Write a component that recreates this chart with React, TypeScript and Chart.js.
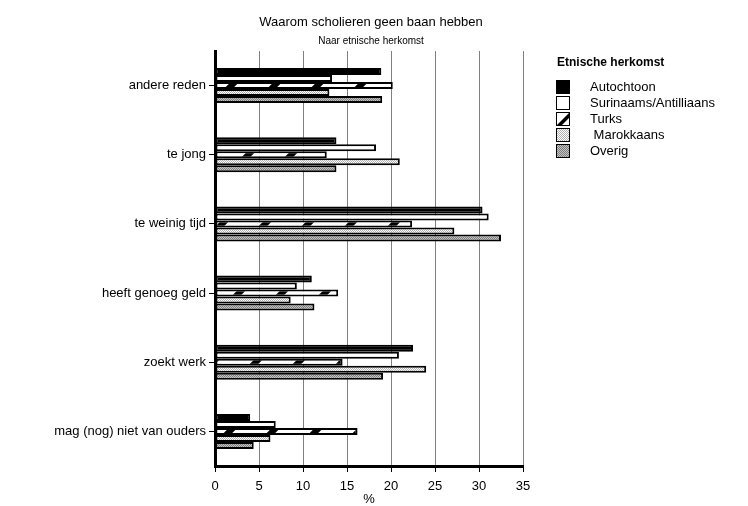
import React, { useEffect, useRef } from "react";
import { Chart, registerables } from "chart.js";
Chart.register(...registerables);

const categories = [
  "andere reden",
  "te jong",
  "te weinig tijd",
  "heeft genoeg geld",
  "zoekt werk",
  "mag (nog) niet van ouders",
];
const seriesNames = ["Autochtoon", "Surinaams/Antilliaans", "Turks", " Marokkaans", "Overig"];
const autochtoon = [18.9, 13.8, 30.4, 11.0, 22.5, 4.0];
const surinaams = [13.3, 18.3, 31.1, 9.3, 20.9, 6.9];
const turks = [20.2, 12.7, 22.4, 14.0, 14.5, 16.2];
const marokkaans = [13.0, 21.0, 27.2, 8.6, 24.0, 6.3];
const overig = [19.0, 13.8, 32.5, 11.3, 19.1, 4.4];
const xMin = 0;
const xMax = 35;
const xStep = 5;
const titleText = "Waarom scholieren geen baan hebben";
const subtitleText = "Naar etnische herkomst";
const legendTitle = "Etnische herkomst";
const axisTitle = "%";

const FAMILY = "'Liberation Sans', Arial, sans-serif";

function makeTile(w: number, h: number, draw: (c: CanvasRenderingContext2D) => void) {
  const cv = document.createElement("canvas");
  cv.width = w;
  cv.height = h;
  const c = cv.getContext("2d")!;
  draw(c);
  return cv;
}

export default function App() {
  const ref = useRef<HTMLCanvasElement | null>(null);

  useEffect(() => {
    const canvas = ref.current!;
    const ctx = canvas.getContext("2d")!;

    const dotsLight = ctx.createPattern(
      makeTile(2, 2, (c) => {
        c.fillStyle = "#ffffff";
        c.fillRect(0, 0, 2, 2);
        c.fillStyle = "#b0b0b0";
        c.fillRect(0, 0, 1, 1);
        c.fillRect(1, 1, 1, 1);
      }),
      "repeat"
    )!;
    const dotsDark = ctx.createPattern(
      makeTile(2, 2, (c) => {
        c.fillStyle = "#c4c4c4";
        c.fillRect(0, 0, 2, 2);
        c.fillStyle = "#7c7c7c";
        c.fillRect(0, 0, 1, 1);
        c.fillRect(1, 1, 1, 1);
      }),
      "repeat"
    )!;
    const P = 43;
    const slashTile = makeTile(P, P, (c) => {
      c.fillStyle = "#ffffff";
      c.fillRect(0, 0, P, P);
      c.strokeStyle = "#000000";
      c.lineWidth = 6;
      for (const k of [0, P, 2 * P]) {
        c.beginPath();
        c.moveTo(k + 10, -10);
        c.lineTo(k - P - 10, P + 10);
        c.stroke();
      }
    });
    const slash = ctx.createPattern(slashTile, "repeat")!;

    const fills: any[] = ["#000000", "#ffffff", slash, dotsLight, dotsDark];
    const values = [autochtoon, surinaams, turks, marokkaans, overig];

    const overlay = {
      id: "overlay",
      afterDraw(chart: any) {
        const c: CanvasRenderingContext2D = chart.ctx;
        c.save();
        c.fillStyle = "#000";
        c.textAlign = "center";
        c.textBaseline = "middle";
        c.font = `13px ${FAMILY}`;
        c.fillText(titleText, 363, 14);
        c.font = `10px ${FAMILY}`;
        c.fillText(subtitleText, 363, 33);

        c.textAlign = "left";
        c.font = `bold 12px ${FAMILY}`;
        c.fillText(legendTitle, 549, 55);
        c.font = `13px ${FAMILY}`;
        seriesNames.forEach((name, i) => {
          const cy = 79 + i * 16;
          const x = 548.5;
          const y = cy - 6.5;
          const s = 13;
          if (i === 2) {
            c.fillStyle = "#fff";
            c.fillRect(x, y, s, s);
            c.fillStyle = "#000";
            c.beginPath();
            c.moveTo(x, y + s);
            c.lineTo(x + s, y);
            c.lineTo(x + s, y + 5);
            c.lineTo(x + 5, y + s);
            c.closePath();
            c.fill();
          } else {
            c.fillStyle = fills[i];
            c.fillRect(x, y, s, s);
          }
          c.strokeStyle = "#000";
          c.lineWidth = 1;
          c.strokeRect(x, y, s, s);
          c.fillStyle = "#000";
          c.fillText(name, 582, cy);
        });
        c.restore();
      },
    };

    const chart = new Chart(canvas, {
      type: "bar",
      data: {
        labels: categories,
        datasets: seriesNames.map((name, i) => ({
          label: name,
          data: values[i],
          backgroundColor: fills[i],
          borderColor: "#000000",
          borderWidth: 2,
          borderSkipped: false,
          categoryPercentage: 0.505,
          barPercentage: 1.0,
        })),
      },
      options: {
        indexAxis: "y",
        responsive: false,
        animation: false,
        devicePixelRatio: 1,
        layout: { padding: { top: 43, right: 217, left: 0, bottom: 0 } },
        plugins: {
          legend: { display: false },
          title: { display: false },
          tooltip: { enabled: false },
        },
        scales: {
          x: {
            type: "linear",
            min: xMin,
            max: xMax,
            ticks: {
              stepSize: xStep,
              color: "#000",
              font: { family: FAMILY, size: 13 },
              padding: 7,
            },
            grid: {
              color: "#808080",
              lineWidth: 1,
              tickColor: "#000",
              tickLength: 6,
              drawTicks: true,
            },
            border: { display: true, color: "#000", width: 3 },
            title: {
              display: true,
              text: axisTitle,
              color: "#000",
              font: { family: FAMILY, size: 13, lineHeight: 1 },
              padding: 0,
            },
            afterFit: (s: any) => {
              s.height = 40;
            },
          },
          y: {
            type: "category",
            z: 1,
            ticks: {
              color: "#000",
              font: { family: FAMILY, size: 13 },
              padding: 3,
            },
            grid: {
              drawOnChartArea: false,
              offset: false,
              tickColor: "#000",
              tickLength: 6,
            },
            border: { display: true, color: "#000", width: 3 },
            afterFit: (s: any) => {
              s.width = 207;
            },
          },
        },
      },
      plugins: [overlay],
    } as any);

    return () => chart.destroy();
  }, []);

  return (
    <canvas ref={ref} width={732} height={498} style={{ display: "block", width: 732, height: 498 }} />
  );
}
